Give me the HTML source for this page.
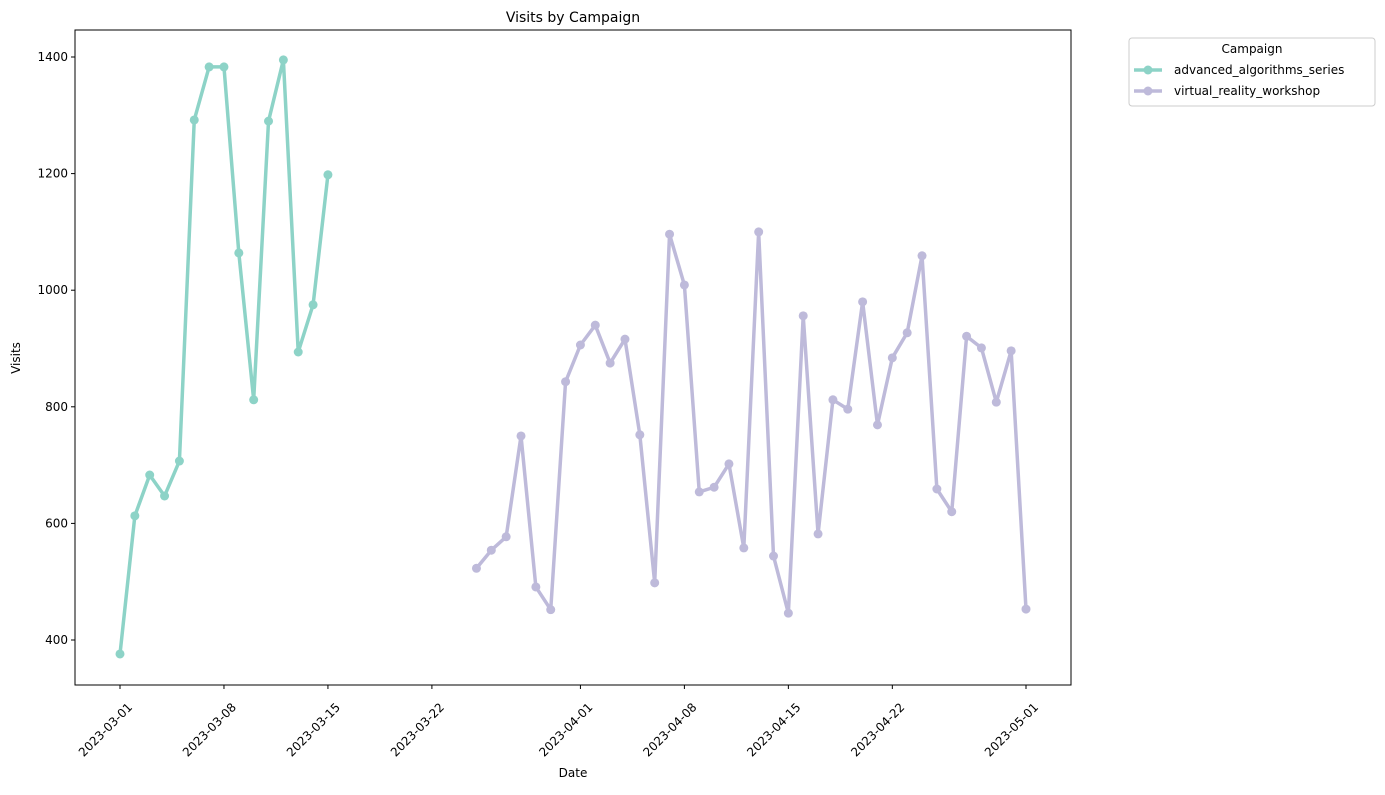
<!DOCTYPE html>
<html><head><meta charset="utf-8"><style>
body{margin:0;background:#fff;font-family:"Liberation Sans","DejaVu Sans",sans-serif;}
svg text{font-family:"DejaVu Sans","Liberation Sans",sans-serif;}
</style></head><body>
<svg id="chart" width="1385" height="790" xmlns="http://www.w3.org/2000/svg">
<rect x="0" y="0" width="1385" height="790" fill="#fff"/>
<g id="plot"></g>
</svg>
<script>
const startA = "2023-03-01";
const valuesA = [376,613,683,647,707,1292,1383,1383,1064,812,1290,1395,894,975,1198];
const startB = "2023-03-25";
const valuesB = [523,554,577,750,491,452,843,906,940,875,916,752,498,1096,1009,654,662,702,558,1100,544,446,956,582,812,796,980,769,884,927,1059,659,620,921,901,808,896,453];
const yTicks = [400,600,800,1000,1200,1400];
const xTickLabels = ["2023-03-01","2023-03-08","2023-03-15","2023-03-22","2023-04-01","2023-04-08","2023-04-15","2023-04-22","2023-05-01"];
const seriesNames = ["advanced_algorithms_series","virtual_reality_workshop"];
const colors = ["#8dd3c7","#bebada"];

const NS="http://www.w3.org/2000/svg";
const L=75,R=1071,T=30,B=685;
const d0=Date.UTC(2023,2,1);
function dayOf(s){const p=s.split('-');return (Date.UTC(+p[0],+p[1]-1,+p[2])-d0)/864e5;}
function xs(d){return 120+d*(906/61);}
function ys(v){return 640-(v-400)*0.583;}
const g=document.getElementById('plot');
function el(t,a,txt){const e=document.createElementNS(NS,t);for(const k in a)e.setAttribute(k,a[k]);if(txt!=null)e.textContent=txt;g.appendChild(e);return e;}

let e=el('rect',{x:L,y:T,width:R-L,height:B-T,fill:'none',stroke:'#000','stroke-width':1});


e=el('text',{x:573,y:22,'text-anchor':'middle','font-size':14},'Visits by Campaign');


e=el('text',{x:573,y:777,'text-anchor':'middle','font-size':12},'Date');


e=el('text',{x:20,y:358,'text-anchor':'middle','font-size':12,transform:'rotate(-90 20 358)'},'Visits');



yTicks.forEach(v=>{const y=ys(v);
 let t=el('line',{x1:L-4,x2:L,y1:y,y2:y,stroke:'#000'});
 
 
 t=el('text',{x:L-7,y:y+4,'text-anchor':'end','font-size':12},String(v));
 
 
});
xTickLabels.forEach(s=>{const x=xs(dayOf(s));
 let t=el('line',{x1:x,x2:x,y1:B,y2:B+4,stroke:'#000'});
 
 
 const ax=x+13, ay=B+23;
 t=el('text',{x:ax,y:ay,'text-anchor':'end','font-size':12,transform:`rotate(-45 ${ax} ${ay})`},s);
 
 
});

function series(start,vals,color,name){
 const s=dayOf(start);
 const pts=vals.map((v,i)=>[xs(s+i),ys(v)]);
 let p=el('polyline',{points:pts.map(q=>q.join(',')).join(' '),fill:'none',stroke:color,'stroke-width':3.5,'stroke-linejoin':'round'});
 
 
 pts.forEach(q=>{const c=el('circle',{cx:q[0],cy:q[1],r:4.5,fill:color});
  
  });
}
series(startA,valuesA,colors[0],seriesNames[0]);
series(startB,valuesB,colors[1],seriesNames[1]);

e=el('rect',{x:1129,y:38,width:246,height:68,rx:3,fill:'#fff',stroke:'#ccc'});


e=el('text',{x:1252,y:53,'text-anchor':'middle','font-size':12},'Campaign');


seriesNames.forEach((n,i)=>{const y=70+i*21;
 let a=el('line',{x1:1134,x2:1162,y1:y,y2:y,stroke:colors[i],'stroke-width':3.5});
 
 
 a=el('circle',{cx:1148,cy:y,r:4.5,fill:colors[i]});
 
 
 a=el('text',{x:1174,y:y+4,'font-size':12},n);
 
 
});
</script>
</body></html>
